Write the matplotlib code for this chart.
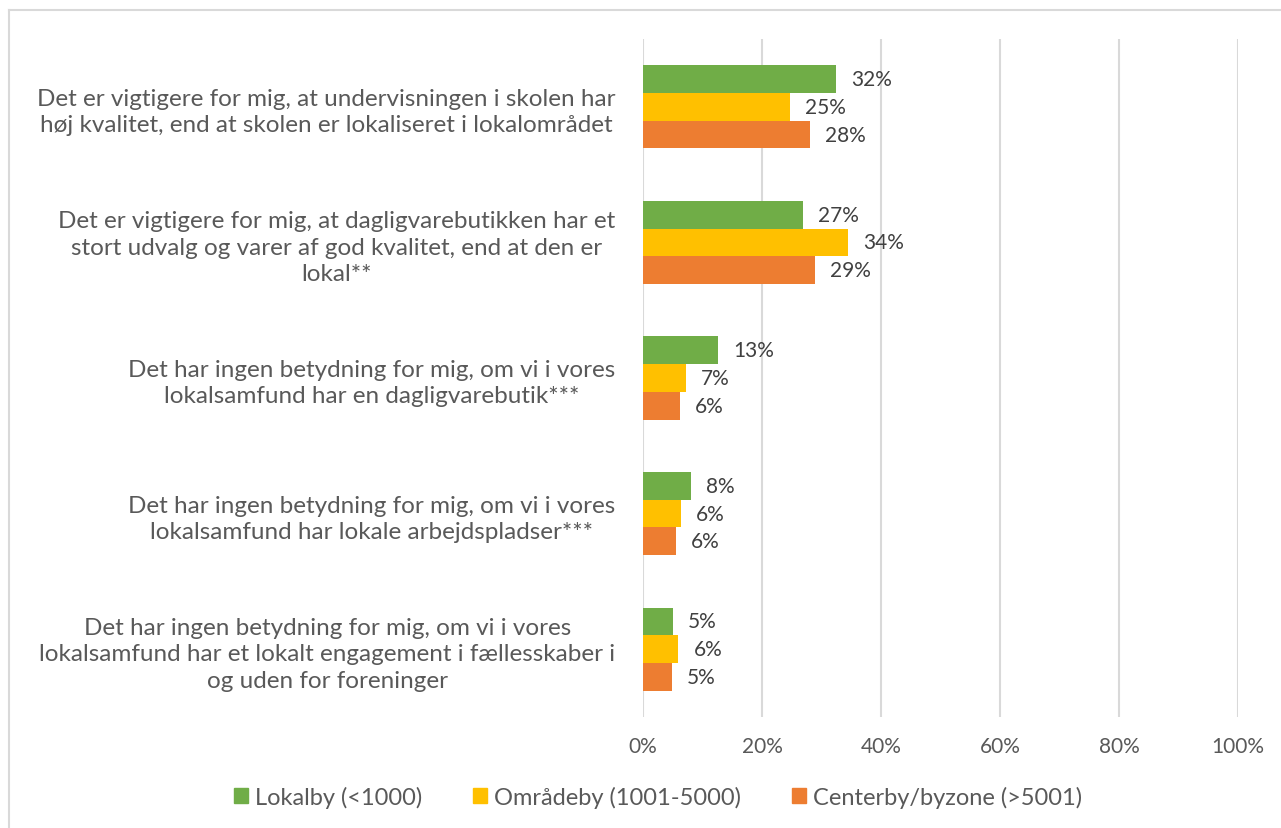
import matplotlib
matplotlib.use("Agg")
import matplotlib.pyplot as plt
from matplotlib.lines import Line2D
import numpy as np

categories = [
    "Det er vigtigere for mig, at undervisningen i skolen har\nhøj kvalitet, end at skolen er lokaliseret i lokalområdet",
    "Det er vigtigere for mig, at dagligvarebutikken har et\nstort udvalg og varer af god kvalitet, end at den er\nlokal**",
    "Det har ingen betydning for mig, om vi i vores\nlokalsamfund har en dagligvarebutik***",
    "Det har ingen betydning for mig, om vi i vores\nlokalsamfund har lokale arbejdspladser***",
    "Det har ingen betydning for mig, om vi i vores\nlokalsamfund har et lokalt engagement i fællesskaber i\nog uden for foreninger",
]
series_names = ["Lokalby (<1000)", "Områdeby (1001-5000)", "Centerby/byzone (>5001)"]
lokalby = [32.4, 26.9, 12.6, 8.1, 5.0]
omraadeby = [24.7, 34.5, 7.2, 6.4, 5.9]
centerby = [28.0, 28.9, 6.2, 5.5, 4.8]
xticks = [0, 20, 40, 60, 80, 100]
xtick_labels = ["0%", "20%", "40%", "60%", "80%", "100%"]

colors = ["#70AD47", "#FFC000", "#ED7D31"]
plt.rcParams['font.family'] = ['Lato', 'DejaVu Sans']

fig = plt.figure(figsize=(12.81, 8.29), dpi=100)
ax = fig.add_axes([643/1281, 1-718/829, (1238-643)/1281, (718-40)/829])

n = len(categories)
y = np.arange(n)
h = 0.205
all_series = [lokalby, omraadeby, centerby]
for i, (vals, c, name) in enumerate(zip(all_series, colors, series_names)):
    pos = y + (i - 1) * h
    ax.barh(pos, vals, height=h, color=c, label=name, zorder=3)
    for p, v in zip(pos, vals):
        ax.annotate(f"{round(v):d}%", (v, p), xytext=(11, 0), textcoords="offset points",
                    ha="left", va="center", fontsize=15, color="#404040")

ax.set_xlim(0, 100)
ax.set_ylim(n - 0.5, -0.5)
ax.set_yticks(y)
ax.set_yticklabels(categories, fontsize=17.5, color="#595959", multialignment="center",
                   linespacing=1.32)
ax.set_xticks(xticks)
ax.set_xticklabels(xtick_labels, fontsize=15, color="#595959")
ax.tick_params(axis="both", length=0)
ax.tick_params(axis="y", pad=20)
ax.tick_params(axis="x", pad=14)
ax.grid(axis="x", color="#D9D9D9", linewidth=1.5, zorder=0)
for s in ax.spines.values():
    s.set_visible(False)

handles = [plt.Rectangle((0, 0), 1, 1, color=c) for c in colors]
fig.legend(handles, series_names, loc="center", bbox_to_anchor=(658/1281, 1-798/829),
           ncol=3, frameon=False, fontsize=17, handlelength=0.6, handleheight=0.6,
           handletextpad=0.3, columnspacing=2.15, labelcolor="#595959")

fig.add_artist(Line2D([8.5/1281, 8.5/1281], [0, 1-11/829], transform=fig.transFigure,
                      color="#D9D9D9", linewidth=1.5))
fig.add_artist(Line2D([8.5/1281, 1], [1-11/829, 1-11/829], transform=fig.transFigure,
                      color="#D9D9D9", linewidth=1.5))

fig.savefig("out.png", dpi=100, facecolor="white")
